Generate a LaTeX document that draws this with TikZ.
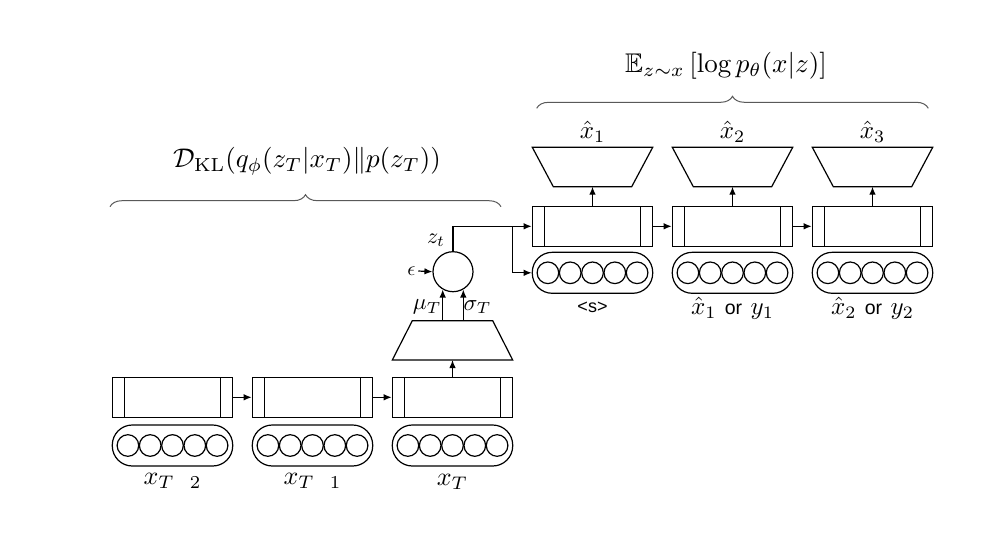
\RequirePackage{fix-cm}
\documentclass[tikz,border=0pt]{standalone}
\usepackage{amsmath,amssymb}
\usepackage{graphicx}
\usepackage{fontspec}
\newfontfamily\arialf{Liberation Sans}
\usetikzlibrary{shapes.geometric,decorations.pathreplacing,arrows.meta}
\begin{document}
\begin{tikzpicture}[x=1pt,y=-1pt,
  lw/.style={line width=1.2pt},
  cell/.style={draw, lw, minimum width=120.4pt, minimum height=40.4pt, inner sep=0pt,
    path picture={
      \draw[lw] ([xshift=12pt]path picture bounding box.north west) -- ([xshift=12pt]path picture bounding box.south west);
      \draw[lw] ([xshift=-12pt]path picture bounding box.north east) -- ([xshift=-12pt]path picture bounding box.south east);}},
  pill/.style={draw, lw, rounded corners=20pt, minimum width=120.4pt, minimum height=41pt, inner sep=0pt},
  dotc/.style={circle, draw, lw, minimum size=21.6pt, inner sep=0pt},
  arr/.style={-{Latex[length=8pt,width=6.5pt]}, lw},
  lbl/.style={inner sep=0pt},
  bracest/.style={decorate, decoration={brace, amplitude=12pt}, line width=1pt, black!65}
]
\useasboundingbox (0,0) rectangle (988,554);

% encoder side
\foreach \i/\cx in {1/172.5, 2/312.5, 3/452.5} {
  \node[cell] (e\i) at (\cx,397.3) {};
  \node[pill] (p\i) at (\cx,445.5) {};
  \foreach \k in {-2,-1,0,1,2} {
    \node[dotc] (pc\i\k) at ({\cx+22.3*\k},445.5) {};
  }
}
\node[lbl] (lx1) at (172.5,482) {\scalebox{2.6}{$x_{T\phantom{-}2}$}};
\node[lbl] (lx2) at (312.5,482) {\scalebox{2.6}{$x_{T\phantom{-}1}$}};
\node[lbl] (lx3) at (452.5,482) {\scalebox{2.6}{$x_{T}$}};
\draw[arr] (e1.east) -- (e2.west);
\draw[arr] (e2.east) -- (e3.west);

% encoder trapezoid (wide bottom)
\coordinate (encS) at (452.5,360);
\coordinate (encN) at (452.5,320.7);
\draw[lw] (392.3,360) -- (512.7,360) -- (492.7,320.7) -- (412.3,320.7) -- cycle;
\draw[arr] (e3.north) -- (encS);

\node[circle, draw, lw, minimum size=40pt, inner sep=0pt] (z) at (453,271.7) {};
\draw[arr] (encN -| z.240) -- (z.240);
\draw[arr] (encN -| z.300) -- (z.300);
\node[lbl, anchor=east] (mu) at (441.5,307) {\scalebox{2.3}{$\mu_T$}};
\node[lbl, anchor=west] (sig) at (463.5,307) {\scalebox{2.3}{$\sigma_T$}};
\node[lbl] (eps) at (411.5,271) {\scalebox{2.0}{$\epsilon$}};
\draw[arr] (eps.east) ++(2.5,0) -- (z.west);
\node[lbl] (zt) at (436,240) {\scalebox{2.2}{$z_t$}};

% decoder side
\foreach \i/\cx in {1/592.5, 2/732.5, 3/872.5} {
  \node[cell] (d\i) at (\cx,226.3) {};
  \node[pill] (q\i) at (\cx,272.8) {};
  \foreach \k in {-2,-1,0,1,2} {
    \node[dotc] (qc\i\k) at ({\cx+22.3*\k},272.8) {};
  }
  \coordinate (t\i) at (\cx,186.7);
  \draw[lw] ({\cx-60.2},147.3) -- ({\cx+60.2},147.3) -- ({\cx+39.2},186.7) -- ({\cx-39.2},186.7) -- cycle;
  \draw[arr] (d\i.north) -- (t\i);
  \node[lbl] (xh\i) at (\cx,131.5) {\scalebox{2.5}{$\hat{x}_{\i}$}};
}
\draw[arr] (d1.east) -- (d2.west);
\draw[arr] (d2.east) -- (d3.west);

\node[inner sep=0pt, font=\arialf\fontsize{18}{21}\selectfont] (s0) at (592.5,307) {<s>};
\node[lbl] (s1) at (732.5,308) {\scalebox{2.5}{$\hat{x}_1$ {\arialf\fontsize{7.8}{9}\selectfont or} $y_1$}};
\node[lbl] (s2) at (872.5,308) {\scalebox{2.5}{$\hat{x}_2$ {\arialf\fontsize{7.8}{9}\selectfont or} $y_2$}};

% z connections
\coordinate (br) at (512.7,226.3);
\draw[arr] (z.north) -- (z.north |- d1.west) -- (d1.west);
\draw[arr] (br) -- (br |- q1.west) -- (q1.west);

% braces
\coordinate (bA1) at (110,206.7);
\coordinate (bA2) at (501,206.7);
\draw[bracest] (bA1) -- (bA2);
\node[lbl] (kl) at (307,161.5) {\scalebox{2.7}{$\mathcal{D}_{\mathrm{KL}}(q_\phi(z_T|x_T)\|p(z_T))$}};

\coordinate (bB1) at (536.7,108.3);
\coordinate (bB2) at (928.3,108.3);
\draw[bracest] (bB1) -- (bB2);
\node[lbl] (ex) at (726,66) {\scalebox{2.7}{$\mathbb{E}_{z\sim x}\left[\log p_\theta(x|z)\right]$}};
\end{tikzpicture}
\end{document}
